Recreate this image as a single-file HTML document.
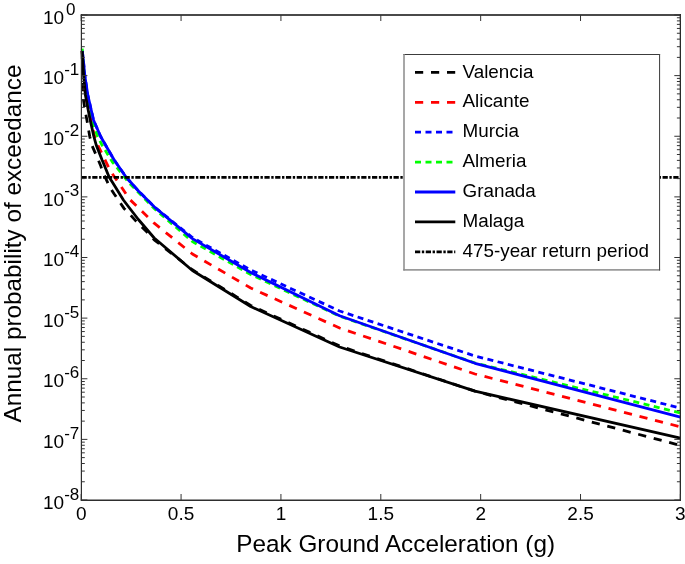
<!DOCTYPE html><html><head><meta charset="utf-8"><style>html,body{margin:0;padding:0;background:#fff}svg{display:block;will-change:transform}text{font-family:"Liberation Sans",sans-serif;fill:#000}</style></head><body>
<svg width="685" height="564" viewBox="0 0 685 564">
<rect width="685" height="564" fill="#fff"/>
<g fill="none" stroke-linejoin="round">
<polyline points="82.00,51.00 82.80,75.60 83.50,100.00 85.00,110.00 86.90,120.00 89.70,136.25 91.80,145.00 100.70,165.70 102.10,170.60 107.10,181.30 109.20,186.20 114.20,194.00 117.70,199.00 124.00,208.40 129.10,213.50 136.00,221.10 147.20,232.30 154.20,239.80 192.40,269.80 250.70,305.40 339.60,346.00 475.00,391.20 680.40,445.40" stroke="#000" stroke-width="2.8" stroke-dasharray="8.2 7.8"/>
<polyline points="82.10,51.00 83.30,65.00 84.00,75.60 85.50,95.00 90.80,120.00 94.50,136.25 97.80,145.00 108.50,167.10 110.60,171.30 117.00,180.60 119.90,184.80 127.00,195.50 129.10,198.80 154.20,223.20 192.40,254.00 250.70,288.00 339.60,328.00 475.00,374.00 680.40,426.80" stroke="#f00" stroke-width="2.8" stroke-dasharray="8.2 7.8"/>
<polyline points="82.30,51.00 83.50,62.00 84.80,75.60 87.80,95.00 90.30,106.00 93.50,120.00 100.50,136.25 105.50,145.00 114.20,160.00 126.20,177.20 129.10,180.50 138.70,191.20 154.20,206.80 192.40,237.50 250.70,270.00 339.60,311.00 475.00,356.00 680.40,408.10" stroke="#00f" stroke-width="2.8" stroke-dasharray="6 4.5"/>
<polyline points="82.20,48.70 83.40,63.00 84.40,75.60 87.30,95.00 91.80,120.00 97.50,136.25 102.00,145.00 112.40,162.00 119.90,171.30 124.50,177.20 129.10,183.00 154.20,208.50 192.40,241.50 250.70,274.50 339.60,316.20 475.00,363.00 680.40,412.90" stroke="#0f0" stroke-width="2.8" stroke-dasharray="6 4.5"/>
<polyline points="82.30,51.00 83.50,62.00 84.80,75.60 87.80,95.00 90.30,106.00 93.50,120.00 100.50,136.25 105.50,145.00 114.20,160.00 126.20,177.20 129.10,180.50 138.70,191.20 154.20,206.80 192.40,238.60 250.70,272.50 339.60,315.70 475.00,363.30 680.40,417.20" stroke="#00f" stroke-width="2.8"/>
<polyline points="82.20,51.20 83.60,75.60 85.40,95.00 88.20,110.00 90.20,120.00 93.80,136.25 96.20,145.00 102.10,160.00 104.20,165.00 109.20,177.20 112.60,182.50 123.40,200.00 129.10,207.50 138.40,219.50 154.20,238.00 192.40,270.50 250.70,306.50 339.60,347.00 475.00,391.20 680.40,438.20" stroke="#000" stroke-width="2.8"/>
<line x1="81.5" y1="177.4" x2="680" y2="177.4" stroke="#000" stroke-width="2.8" stroke-dasharray="5.25 1.6 2.35 1.56"/>
</g>
<g stroke="#333" fill="none">
<path d="M80.8,15H681" stroke="#4a4a4a" stroke-width="2"/>
<path d="M80.8,500.275H681" stroke="#2e2e2e" stroke-width="1.45"/>
<path d="M81.4,14V501" stroke="#2e2e2e" stroke-width="1.2"/>
<path d="M680.35,14V501" stroke="#2a2a2a" stroke-width="1.3"/>
<path d="M81.20,500V494M81.20,15V21M181.07,500V494M181.07,15V21M280.93,500V494M280.93,15V21M380.80,500V494M380.80,15V21M480.67,500V494M480.67,15V21M580.53,500V494M580.53,15V21M680.40,500V494M680.40,15V21M81.4,15.00H87.4M680.3,15.00H674.3M81.4,57.38H84.8M680.3,57.38H676.9M81.4,46.70H84.8M680.3,46.70H676.9M81.4,39.13H84.8M680.3,39.13H676.9M81.4,33.25H84.8M680.3,33.25H676.9M81.4,28.45H84.8M680.3,28.45H676.9M81.4,24.39H84.8M680.3,24.39H676.9M81.4,20.88H84.8M680.3,20.88H676.9M81.4,17.77H84.8M680.3,17.77H676.9M81.4,75.62H87.4M680.3,75.62H674.3M81.4,118.00H84.8M680.3,118.00H676.9M81.4,107.32H84.8M680.3,107.32H676.9M81.4,99.75H84.8M680.3,99.75H676.9M81.4,93.87H84.8M680.3,93.87H676.9M81.4,89.07H84.8M680.3,89.07H676.9M81.4,85.02H84.8M680.3,85.02H676.9M81.4,81.50H84.8M680.3,81.50H676.9M81.4,78.40H84.8M680.3,78.40H676.9M81.4,136.25H87.4M680.3,136.25H674.3M81.4,178.63H84.8M680.3,178.63H676.9M81.4,167.95H84.8M680.3,167.95H676.9M81.4,160.38H84.8M680.3,160.38H676.9M81.4,154.50H84.8M680.3,154.50H676.9M81.4,149.70H84.8M680.3,149.70H676.9M81.4,145.64H84.8M680.3,145.64H676.9M81.4,142.13H84.8M680.3,142.13H676.9M81.4,139.02H84.8M680.3,139.02H676.9M81.4,196.88H87.4M680.3,196.88H674.3M81.4,239.25H84.8M680.3,239.25H676.9M81.4,228.57H84.8M680.3,228.57H676.9M81.4,221.00H84.8M680.3,221.00H676.9M81.4,215.12H84.8M680.3,215.12H676.9M81.4,210.32H84.8M680.3,210.32H676.9M81.4,206.27H84.8M680.3,206.27H676.9M81.4,202.75H84.8M680.3,202.75H676.9M81.4,199.65H84.8M680.3,199.65H676.9M81.4,257.50H87.4M680.3,257.50H674.3M81.4,299.88H84.8M680.3,299.88H676.9M81.4,289.20H84.8M680.3,289.20H676.9M81.4,281.63H84.8M680.3,281.63H676.9M81.4,275.75H84.8M680.3,275.75H676.9M81.4,270.95H84.8M680.3,270.95H676.9M81.4,266.89H84.8M680.3,266.89H676.9M81.4,263.38H84.8M680.3,263.38H676.9M81.4,260.27H84.8M680.3,260.27H676.9M81.4,318.12H87.4M680.3,318.12H674.3M81.4,360.50H84.8M680.3,360.50H676.9M81.4,349.82H84.8M680.3,349.82H676.9M81.4,342.25H84.8M680.3,342.25H676.9M81.4,336.37H84.8M680.3,336.37H676.9M81.4,331.57H84.8M680.3,331.57H676.9M81.4,327.52H84.8M680.3,327.52H676.9M81.4,324.00H84.8M680.3,324.00H676.9M81.4,320.90H84.8M680.3,320.90H676.9M81.4,378.75H87.4M680.3,378.75H674.3M81.4,421.13H84.8M680.3,421.13H676.9M81.4,410.45H84.8M680.3,410.45H676.9M81.4,402.88H84.8M680.3,402.88H676.9M81.4,397.00H84.8M680.3,397.00H676.9M81.4,392.20H84.8M680.3,392.20H676.9M81.4,388.14H84.8M680.3,388.14H676.9M81.4,384.63H84.8M680.3,384.63H676.9M81.4,381.52H84.8M680.3,381.52H676.9M81.4,439.38H87.4M680.3,439.38H674.3M81.4,481.75H84.8M680.3,481.75H676.9M81.4,471.07H84.8M680.3,471.07H676.9M81.4,463.50H84.8M680.3,463.50H676.9M81.4,457.62H84.8M680.3,457.62H676.9M81.4,452.82H84.8M680.3,452.82H676.9M81.4,448.77H84.8M680.3,448.77H676.9M81.4,445.25H84.8M680.3,445.25H676.9M81.4,442.15H84.8M680.3,442.15H676.9M81.4,500.00H87.4M680.3,500.00H674.3" stroke-width="1"/>
</g>
<g font-size="19">
<text x="81.20" y="519.8" text-anchor="middle">0</text>
<text x="181.07" y="519.8" text-anchor="middle">0.5</text>
<text x="280.93" y="519.8" text-anchor="middle">1</text>
<text x="380.80" y="519.8" text-anchor="middle">1.5</text>
<text x="480.67" y="519.8" text-anchor="middle">2</text>
<text x="580.53" y="519.8" text-anchor="middle">2.5</text>
<text x="680.40" y="519.8" text-anchor="middle">3</text>
<text x="43.0" y="23.70">10<tspan font-size="17" dy="-9.2" dx="1.8">0</tspan></text>
<text x="43.0" y="84.33">10<tspan font-size="17" dy="-9.2" dx="0.0">-1</tspan></text>
<text x="43.0" y="144.95">10<tspan font-size="17" dy="-9.2" dx="0.0">-2</tspan></text>
<text x="43.0" y="205.57">10<tspan font-size="17" dy="-9.2" dx="0.0">-3</tspan></text>
<text x="43.0" y="266.20">10<tspan font-size="17" dy="-9.2" dx="0.0">-4</tspan></text>
<text x="43.0" y="326.82">10<tspan font-size="17" dy="-9.2" dx="0.0">-5</tspan></text>
<text x="43.0" y="387.45">10<tspan font-size="17" dy="-9.2" dx="0.0">-6</tspan></text>
<text x="43.0" y="448.07">10<tspan font-size="17" dy="-9.2" dx="0.0">-7</tspan></text>
<text x="43.0" y="508.70">10<tspan font-size="17" dy="-9.2" dx="0.0">-8</tspan></text>
</g>
<text x="395.7" y="552" font-size="24.3" text-anchor="middle">Peak Ground Acceleration (g)</text>
<text transform="translate(21,243.5) rotate(-90)" font-size="24.3" text-anchor="middle">Annual probability of exceedance</text>
<rect x="404" y="54.6" width="255.5" height="215" fill="#fff"/>
<g fill="none">
<path d="M403.3,54.55H660.1" stroke="#3c3c3c" stroke-width="1.1"/>
<path d="M660.1,269.8H403.3" stroke="#9a9a9a" stroke-width="1.7"/>
<path d="M404,54V270.6" stroke="#8a8a8a" stroke-width="1.5"/>
<path d="M659.55,54V270.6" stroke="#4a4a4a" stroke-width="1.1"/>
</g>
<g font-size="18.85">
<line x1="415" y1="72.40" x2="455.3" y2="72.40" stroke="#000" stroke-width="2.8" stroke-dasharray="8.2 7.8"/>
<text x="462.5" y="77.50">Valencia</text>
<line x1="415" y1="102.30" x2="455.3" y2="102.30" stroke="#f00" stroke-width="2.8" stroke-dasharray="8.2 7.8"/>
<text x="462.5" y="107.40">Alicante</text>
<line x1="415" y1="132.20" x2="455.3" y2="132.20" stroke="#00f" stroke-width="2.8" stroke-dasharray="6 4.5"/>
<text x="462.5" y="137.30">Murcia</text>
<line x1="415" y1="162.10" x2="455.3" y2="162.10" stroke="#0f0" stroke-width="2.8" stroke-dasharray="6 4.5"/>
<text x="462.5" y="167.20">Almeria</text>
<line x1="415" y1="192.00" x2="455.3" y2="192.00" stroke="#00f" stroke-width="2.8"/>
<text x="462.5" y="197.10">Granada</text>
<line x1="415" y1="221.90" x2="455.3" y2="221.90" stroke="#000" stroke-width="2.8"/>
<text x="462.5" y="227.00">Malaga</text>
<line x1="415" y1="251.80" x2="455.3" y2="251.80" stroke="#000" stroke-width="2.8" stroke-dasharray="5.25 1.6 2.35 1.56"/>
<text x="462.5" y="256.90">475-year return period</text>
</g>
</svg></body></html>
